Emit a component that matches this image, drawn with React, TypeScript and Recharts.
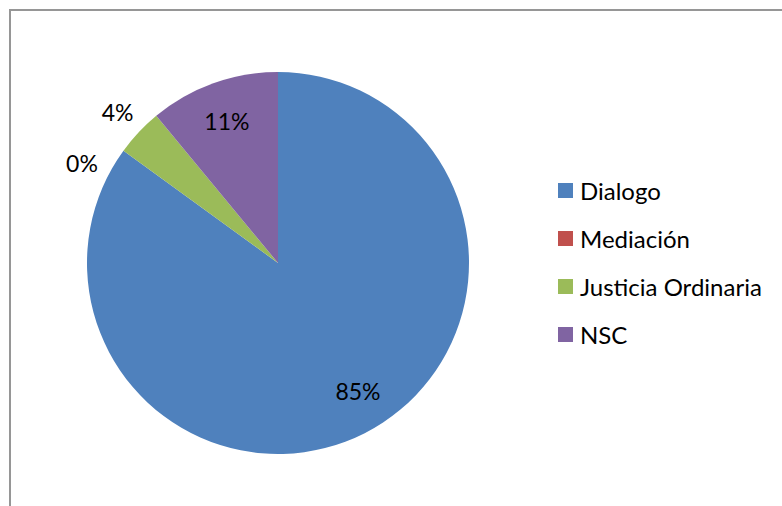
import { PieChart, Pie, Cell, Legend } from "recharts";

const categories = ["Dialogo", "Mediación", "Justicia Ordinaria", "NSC"];
const shares = [85, 0, 4, 11];
const percentLabels = ["85%", "0%", "4%", "11%"];
const COLORS = ["#4F81BD", "#C0504D", "#9BBB59", "#8064A2"];

const data = categories.map((name, i) => ({ name, value: shares[i], label: percentLabels[i] }));

const FONT = "Lato, 'Open Sans', sans-serif";
const RADIAN = Math.PI / 180;
// Excel's best-fit label placement isn't exactly at the mid angle
const labelNudge = [5, 9, 0, 0];

function renderLabel(props: any) {
  const { cx, cy, midAngle, outerRadius, index } = props;
  const inside = shares[index] >= 10;
  const r = inside ? outerRadius * 0.79 : outerRadius + 29;
  const angle = midAngle + labelNudge[index];
  const x = cx + r * Math.cos(-angle * RADIAN);
  const y = cy + r * Math.sin(-angle * RADIAN);
  return (
    <text x={x} y={y} fill="#000" fontSize={23} fontFamily={FONT} textAnchor="middle" dominantBaseline="central">
      {percentLabels[index]}
    </text>
  );
}

function LegendList() {
  return (
    <div style={{ fontFamily: FONT, fontSize: 24, color: "#000" }}>
      {categories.map((c, i) => (
        <div key={c} style={{ display: "flex", alignItems: "center", height: 48 }}>
          <span style={{ width: 15, height: 15, background: COLORS[i], marginRight: 7, display: "inline-block" }} />
          <span>{c}</span>
        </div>
      ))}
    </div>
  );
}

export default function App() {
  return (
    <div style={{ position: "absolute", left: 0, top: 0, width: 782, height: 506, background: "#fff", overflow: "hidden" }}>
      <div style={{ position: "absolute", left: 9, top: 9, width: 800, height: 520, border: "2px solid #969696" }} />
      <PieChart width={782} height={506} margin={{ top: 0, right: 0, bottom: 0, left: 0 }} style={{ position: "absolute", left: 0, top: 0 }}>
        <Pie
          data={data}
          dataKey="value"
          nameKey="name"
          cx={278}
          cy={263}
          outerRadius={191}
          startAngle={90}
          endAngle={-270}
          stroke="none"
          label={renderLabel}
          labelLine={false}
          isAnimationActive={false}
        >
          {data.map((_, i) => <Cell key={i} fill={COLORS[i]} />)}
        </Pie>
        <Legend
          layout="vertical"
          content={() => <LegendList />}
          wrapperStyle={{ left: 558, top: 166, width: 220 }}
        />
      </PieChart>
    </div>
  );
}
